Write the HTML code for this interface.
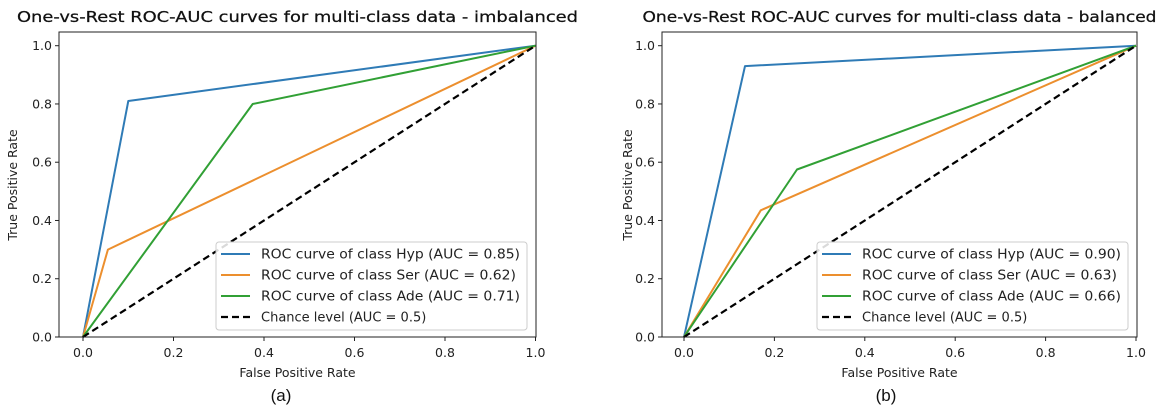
<!DOCTYPE html>
<html><head><meta charset="utf-8">
<style>
html,body{margin:0;padding:0;background:#fff;}
svg{display:block;font-family:"DejaVu Sans","Liberation Sans",sans-serif;}
</style></head>
<body>
<svg id="fig" width="1170" height="414" viewBox="0 0 1170 414" xmlns="http://www.w3.org/2000/svg"></svg>
<script>
// ---- data ----
const xTicks = [0.0, 0.2, 0.4, 0.6, 0.8, 1.0];
const yTicks = [0.0, 0.2, 0.4, 0.6, 0.8, 1.0];
const tickLabels = ["0.0","0.2","0.4","0.6","0.8","1.0"];
const classNames = ["Hyp","Ser","Ade"];
const colors = ["#2f7bb6","#ec8f2e","#31a035"];
// imbalanced
const aHypX = [0, 0.10, 1], aHypY = [0, 0.81, 1];
const aSerX = [0, 0.055, 1], aSerY = [0, 0.30, 1];
const aAdeX = [0, 0.375, 1], aAdeY = [0, 0.80, 1];
const aAuc = ["0.85","0.62","0.71"];
// balanced
const bHypX = [0, 0.135, 1], bHypY = [0, 0.93, 1];
const bSerX = [0, 0.17, 1], bSerY = [0, 0.435, 1];
const bAdeX = [0, 0.25, 1], bAdeY = [0, 0.575, 1];
const bAuc = ["0.90","0.63","0.66"];
const chanceX = [0, 1], chanceY = [0, 1];

const NS = "http://www.w3.org/2000/svg";
const svg = document.getElementById("fig");
function mk(tag, attrs, parent){
  const e = document.createElementNS(NS, tag);
  for (const k in attrs) e.setAttribute(k, attrs[k]);
  (parent||svg).appendChild(e);
  return e;
}

function panel(cfg){
  const g = mk("g", {});
  
  
  const L = cfg.left, R = cfg.right, T = 32, B = 337;
  const x0px = cfg.x0, x1px = cfg.x1;
  const sx = v => x0px + v*(x1px - x0px);
  const y0px = 337, y1px = 45.7;
  const sy = v => y0px + v*(y1px - y0px);

  const t = mk("text", {x:(L+R)/2, y:22, "text-anchor":"middle", "font-size":"15.5", fill:"#111", stroke:"#111", "stroke-width":0.25, textLength:cfg.titleLen, lengthAdjust:"spacingAndGlyphs"}, g);
  t.textContent = cfg.title;
  
  

  xTicks.forEach((v,i)=>{
    const x = sx(v);
    mk("line",{x1:x,y1:B,x2:x,y2:B+4,stroke:"#222","stroke-width":1},g);
    const tl = mk("text",{x:x,y:B+20,"text-anchor":"middle","font-size":"12.5",fill:"#222"},g);
    tl.textContent = tickLabels[i];
    
    
  });
  yTicks.forEach((v,i)=>{
    const y = sy(v);
    mk("line",{x1:L-4,y1:y,x2:L,y2:y,stroke:"#222","stroke-width":1},g);
    const tl = mk("text",{x:L-7,y:y+4.5,"text-anchor":"end","font-size":"12.5",fill:"#222"},g);
    tl.textContent = tickLabels[i];
    
    
  });
  const xl = mk("text",{x:(L+R)/2,y:377,"text-anchor":"middle","font-size":"12.5",fill:"#222"},g);
  xl.textContent = "False Positive Rate";
  
  
  const yl = mk("text",{x:0,y:0,"text-anchor":"middle","font-size":"12.5",fill:"#222",transform:`translate(${cfg.ylabX},185) rotate(-90)`},g);
  yl.textContent = "True Positive Rate";
  
  
  const sub = mk("text",{x:cfg.subX,y:401,"text-anchor":"middle","font-size":"17",fill:"#111","font-family":"Liberation Sans, sans-serif"},g);
  sub.textContent = cfg.sub;
  
  

  const pts = (xs,ys)=>xs.map((v,i)=>sx(v).toFixed(1)+","+sy(ys[i]).toFixed(1)).join(" ");
  cfg.series.forEach((s,i)=>{
    const p = mk("polyline",{points:pts(s[0],s[1]),fill:"none",stroke:colors[i],"stroke-width":2,"stroke-linejoin":"round"},g);
    
    
  });
  const ch = mk("polyline",{points:pts(chanceX,chanceY),fill:"none",stroke:"#000","stroke-width":2.2,"stroke-dasharray":"7,4"},g);
  
  

  const fr = mk("rect",{x:L,y:T,width:R-L,height:B-T,fill:"none",stroke:"#222","stroke-width":1},g);
  
  

  const lg = mk("g",{},g);
  
  
  mk("rect",{x:cfg.legX,y:242,width:311,height:88,rx:3,fill:"rgba(255,255,255,0.85)",stroke:"#ccc","stroke-width":1},lg);
  const rows = classNames.map((c,i)=>["ROC curve of class "+c+" (AUC = "+cfg.auc[i]+")", colors[i], false]);
  rows.push(["Chance level (AUC = 0.5)","#000",true]);
  rows.forEach((r,i)=>{
    const y = 254 + i*21;
    const e = mk("g",{},lg);
    
    
    const la = {x1:cfg.legX+5,y1:y,x2:cfg.legX+34,y2:y,stroke:r[1],"stroke-width":r[2]?2.2:2};
    if (r[2]) la["stroke-dasharray"]="7,4";
    mk("line",la,e);
    const tt = mk("text",{x:cfg.legX+45,y:y+4.5,"font-size":"13",fill:"#222"},e);
    if (!r[2]) { tt.setAttribute("textLength", cfg.legLen[i]); tt.setAttribute("lengthAdjust","spacingAndGlyphs"); }
    tt.textContent = r[0];
  });
}

panel({name:"panel-imbalanced", left:59, right:536, x0:83, x1:535.5,
  title:"One-vs-Rest ROC-AUC curves for multi-class data - imbalanced", titleLen:561,
  ylabX:17, subX:281, sub:"(a)", legX:216, auc:aAuc, legLen:[259,255,259],
  series:[[aHypX,aHypY],[aSerX,aSerY],[aAdeX,aAdeY]]});
panel({name:"panel-balanced", left:662, right:1137, x0:684, x1:1136,
  title:"One-vs-Rest ROC-AUC curves for multi-class data - balanced", titleLen:514,
  ylabX:632, subX:886, sub:"(b)", legX:817, auc:bAuc, legLen:[259,255,259],
  series:[[bHypX,bHypY],[bSerX,bSerY],[bAdeX,bAdeY]]});
</script>
</body></html>
